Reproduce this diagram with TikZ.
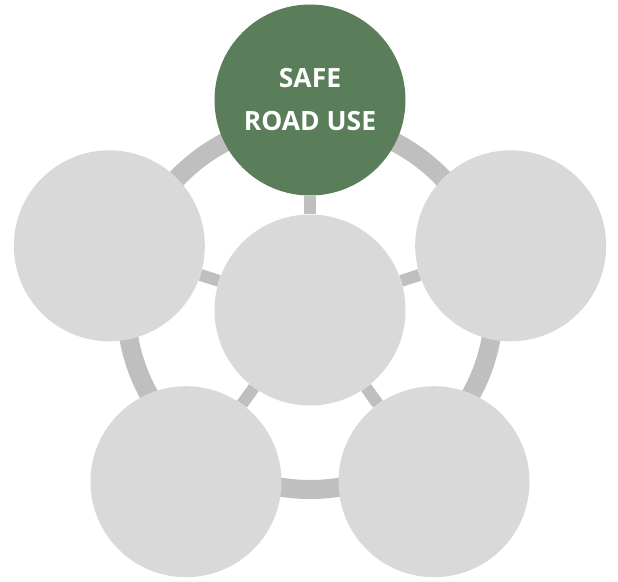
\documentclass[tikz,border=0pt]{standalone}
\usepackage{fontspec}
\newfontfamily\bubblefont{Open Sans}
\usetikzlibrary{backgrounds,calc}
\definecolor{roadgreen}{RGB}{90,125,90}
\definecolor{bubblegray}{RGB}{217,217,217}
\definecolor{rimgray}{RGB}{191,191,191}
\tikzset{
  bubble/.style={circle, fill=bubblegray, minimum size=191pt, inner sep=0pt},
  rim/.style={draw=rimgray, line width=19pt},
  spoke/.style={draw=rimgray, line width=12pt}
}
\begin{document}
\begin{tikzpicture}[x=1pt, y=-1pt]
    \useasboundingbox (0,0) rectangle (618,581);
    \coordinate (o) at (310,311); \coordinate (m) at (310,305.5);
    \node[bubble] (hub) at (310,310) {};
    \node[bubble, fill=roadgreen, text=white, align=center,
          font=\bubblefont\bfseries\fontsize{26.5}{43}\selectfont] (top) at ($(o)+(-90:211)$) {SAFE\\ROAD USE};
    \foreach \n/\a in {right/-18, br/54, bl/126, left/198}
        \node[bubble] (\n) at ($(o)+(\a:211)$) {};
    \begin{scope}[on background layer]
        \draw[rim] (m) circle (184);
        \foreach \n in {top,right,br,bl,left} \draw[spoke] (hub)--(\n);
    \end{scope}
\end{tikzpicture}
\end{document}
